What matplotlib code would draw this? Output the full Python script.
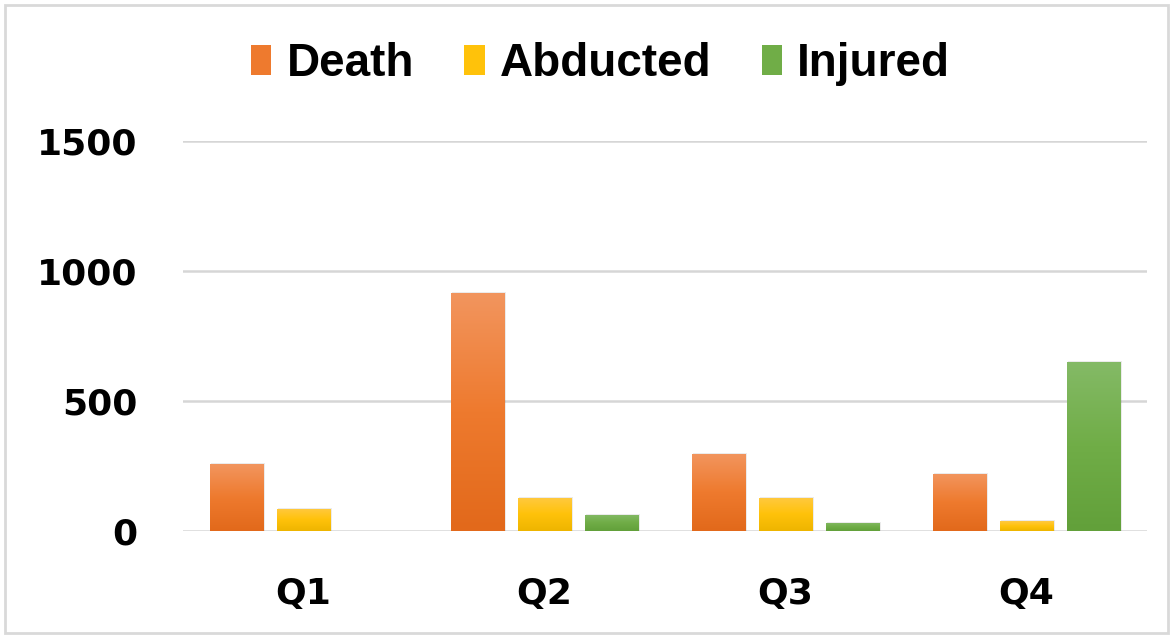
import numpy as np
import matplotlib.pyplot as plt
from matplotlib.patches import Rectangle
from matplotlib.colors import LinearSegmentedColormap

quarters = ['Q1', 'Q2', 'Q3', 'Q4']
death = [257, 915, 296, 220]
abducted = [86, 128, 129, 38]
injured = [0, 64, 32, 650]

series = [
    ('Death', death, '#EE7A2E', '#F2955E', '#E2691B'),
    ('Abducted', abducted, '#FFC20A', '#FFC940', '#EEB500'),
    ('Injured', injured, '#70AD47', '#84BA66', '#62A03A'),
]

fig = plt.figure(figsize=(11.73, 6.37), dpi=100)
ax = fig.add_axes([0.156, 0.166, 0.822, 0.613])

x = np.arange(len(quarters))
width = 0.224
step = 0.278

for i, (name, vals, color, top, bottom) in enumerate(series):
    bars = ax.bar(x + (i - 1) * step, vals, width, color=color, label=name, zorder=3)
    cmap = LinearSegmentedColormap.from_list(name, [bottom, color, top])
    grad = np.linspace(0, 1, 100).reshape(-1, 1)
    for b in bars:
        if b.get_height() <= 0:
            continue
        # soft shadow
        ax.add_patch(Rectangle((b.get_x() + 0.006, 0), b.get_width(), b.get_height() + 4,
                               color='#000000', alpha=0.08, zorder=2, lw=0))
        im = ax.imshow(grad, cmap=cmap, origin='lower', aspect='auto', zorder=4,
                       extent=[b.get_x(), b.get_x() + b.get_width(), 0, b.get_height()])
        im.set_clip_path(b)

ax.set_xlim(-0.5, len(quarters) - 0.5)
ax.set_ylim(0, 1500)
ax.set_yticks([0, 500, 1000, 1500])
ax.set_xticks(x)
ax.set_xticklabels(quarters)
ax.grid(axis='y', color='#D6D6D6', linewidth=1.8, zorder=0)
ax.set_axisbelow(True)
for s in ax.spines.values():
    s.set_visible(False)
ax.tick_params(length=0)
ax.tick_params(axis='y', pad=33)
ax.tick_params(axis='x', pad=33)
for lab in ax.get_xticklabels() + ax.get_yticklabels():
    lab.set_fontsize(26)
    lab.set_fontweight('bold')
    lab.set_family('DejaVu Sans')

leg = ax.legend(loc='center', bbox_to_anchor=(0.512, 0.899), bbox_transform=fig.transFigure,
                ncol=3, frameon=False, handlelength=0.44, handleheight=0.62,
                handletextpad=0.33, columnspacing=1.1,
                prop={'family': ['Liberation Sans', 'DejaVu Sans'], 'weight': 'bold', 'size': 33})

fig.add_artist(Rectangle((0.004, 0.006), 0.992, 0.986, transform=fig.transFigure,
                         fill=False, edgecolor='#D9D9D9', linewidth=2))

fig.savefig('out.png', dpi=100)
